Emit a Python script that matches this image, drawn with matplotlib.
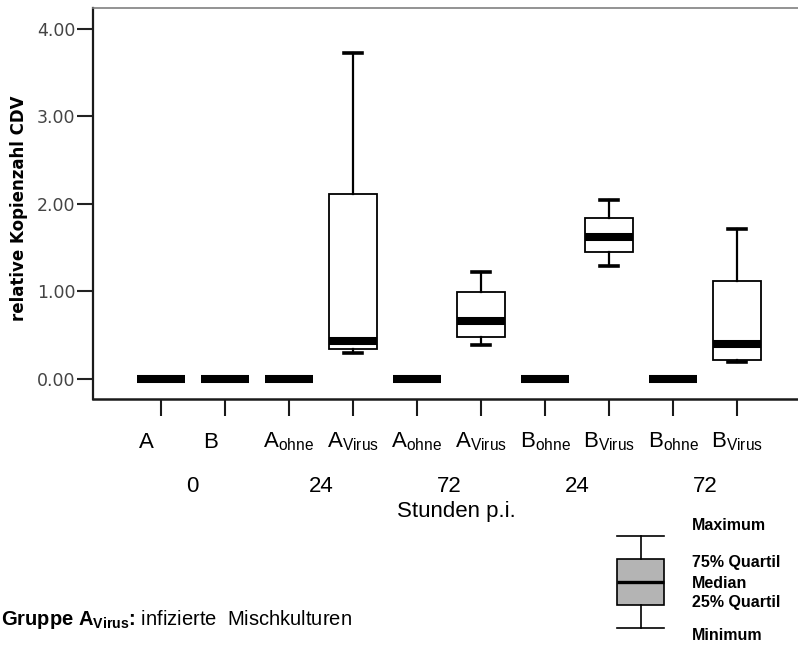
import matplotlib
matplotlib.use("Agg")
import matplotlib.pyplot as plt
from matplotlib.transforms import blended_transform_factory

plt.rcParams['mathtext.fontset'] = 'custom'
plt.rcParams['mathtext.rm'] = 'Liberation Sans'
plt.rcParams['mathtext.it'] = 'Liberation Sans:italic'
plt.rcParams['mathtext.bf'] = 'Liberation Sans:bold'

# relative Kopienzahl CDV je Gruppe
categories = [r'$\mathrm{A}$', r'$\mathrm{B}$',
              r'$\mathrm{A_{ohne}}$', r'$\mathrm{A_{Virus}}$',
              r'$\mathrm{A_{ohne}}$', r'$\mathrm{A_{Virus}}$',
              r'$\mathrm{B_{ohne}}$', r'$\mathrm{B_{Virus}}$',
              r'$\mathrm{B_{ohne}}$', r'$\mathrm{B_{Virus}}$']
whislo = [0, 0, 0, 0.30, 0, 0.385, 0, 1.29, 0, 0.19]
q1 = [0, 0, 0, 0.345, 0, 0.48, 0, 1.455, 0, 0.22]
med = [0, 0, 0, 0.43, 0, 0.66, 0, 1.62, 0, 0.40]
q3 = [0, 0, 0, 2.11, 0, 0.99, 0, 1.84, 0, 1.12]
whishi = [0, 0, 0, 3.73, 0, 1.22, 0, 2.05, 0, 1.71]

hours = ['0', '24', '72', '24', '72']
yticks = [0, 1, 2, 3, 4]

W, H = 798, 646
fig = plt.figure(figsize=(W / 100, H / 100), dpi=100)
ax = fig.add_axes([93 / W, 1 - 399 / H, 1 - 93 / W, 391 / H])

stats = []
for i in range(len(categories)):
    stats.append(dict(whislo=whislo[i], q1=q1[i], med=med[i],
                      q3=q3[i], whishi=whishi[i], fliers=[]))
pos = list(range(len(categories)))

ax.bxp(stats, positions=pos, widths=0.75, capwidths=0.28,
       showfliers=False, patch_artist=True,
       boxprops=dict(facecolor='white', edgecolor='black', linewidth=1.3),
       whiskerprops=dict(color='black', linewidth=1.6),
       capprops=dict(color='black', linewidth=2.6),
       medianprops=dict(color='black', linewidth=5.8, solid_capstyle='butt',
                        zorder=4))

ax.set_xlim(-1.057, 9.95)
ax.set_ylim(-0.229, 4.24)

# achsen
ax.spines['right'].set_visible(False)
ax.spines['top'].set_color('#808080')
ax.spines['top'].set_linewidth(1.2)
ax.spines['left'].set_color('#1a1a1a')
ax.spines['left'].set_linewidth(1.6)
ax.spines['bottom'].set_color('#1a1a1a')
ax.spines['bottom'].set_linewidth(1.8)

ax.set_yticks(yticks, [f'{v:.2f}' for v in yticks])
ax.tick_params(axis='y', length=11.5, width=1.5, pad=1, labelsize=12.5,
               labelcolor='#444444', colors='#222222')
for lab in ax.get_yticklabels():
    lab.set_family('DejaVu Sans')
    lab.set_color('#444444')
for t, c in zip(ax.yaxis.get_major_ticks(),
                ['#333333', '#999999', '#bbbbbb', '#222222', '#333333']):
    t.tick1line.set_color(c)

ax.set_xticks(pos)
ax.tick_params(axis='x', length=12, width=1.5, labelbottom=False,
               colors='#1a1a1a')
for i, t in enumerate(ax.xaxis.get_major_ticks()):
    if i in (4, 5):
        t.tick1line.set_color('#c8c8c8')

fig.text(19 / W, 1 - 208 / H, 'relative Kopienzahl CDV', rotation=90,
         ha='center', va='center', fontsize=12, fontweight='bold',
         family='DejaVu Sans')

# beschriftung unter der achse
tr = blended_transform_factory(ax.transData, fig.transFigure)
for x, lab in zip(pos, categories):
    dx = -0.22 if x < 2 else 0.0
    ax.text(x + dx, 1 - 442 / H, lab, transform=tr, ha='center', va='center',
            fontsize=16, family='Liberation Sans')
for k, h in enumerate(hours):
    ax.text(2 * k + 0.5, 1 - 487 / H, h, transform=tr, ha='center',
            va='center', fontsize=16, family='Liberation Sans')
fig.text(456 / W, 1 - 512 / H, 'Stunden p.i.', ha='center', va='center',
         fontsize=16, family='Liberation Sans')

fig.text(1 / W, 1 - 625 / H,
         r'Gruppe $\mathbf{A_{Virus}}$: $\mathrm{infizierte\ \ Mischkulturen}$',
         ha='left', va='baseline', fontsize=14.5, fontweight='bold',
         family='Liberation Sans')

# legende
lax = fig.add_axes([600 / W, 1 - 640 / H, 81 / W, 120 / H])
lax.axis('off')
lax.bxp([dict(whislo=0, q1=1, med=2, q3=3, whishi=4, fliers=[])],
        positions=[0], widths=1.14, capwidths=1.14, showfliers=False,
        patch_artist=True,
        boxprops=dict(facecolor='#b4b4b4', edgecolor='black', linewidth=1.2),
        whiskerprops=dict(color='black', linewidth=1.2),
        capprops=dict(color='black', linewidth=1.2),
        medianprops=dict(color='black', linewidth=2.4))
lax.set_xlim(-1, 1)
lax.set_ylim(-0.505, 4.678)

legend_labels = ['Maximum', '75% Quartil', 'Median', '25% Quartil', 'Minimum']
legend_y = [526, 563, 583, 602, 636]
for lab, y in zip(legend_labels, legend_y):
    fig.text(692 / W, 1 - y / H, lab, ha='left', va='center', fontsize=11.5,
             fontweight='bold', family='Liberation Sans')

fig.savefig('out.png', dpi=100)
